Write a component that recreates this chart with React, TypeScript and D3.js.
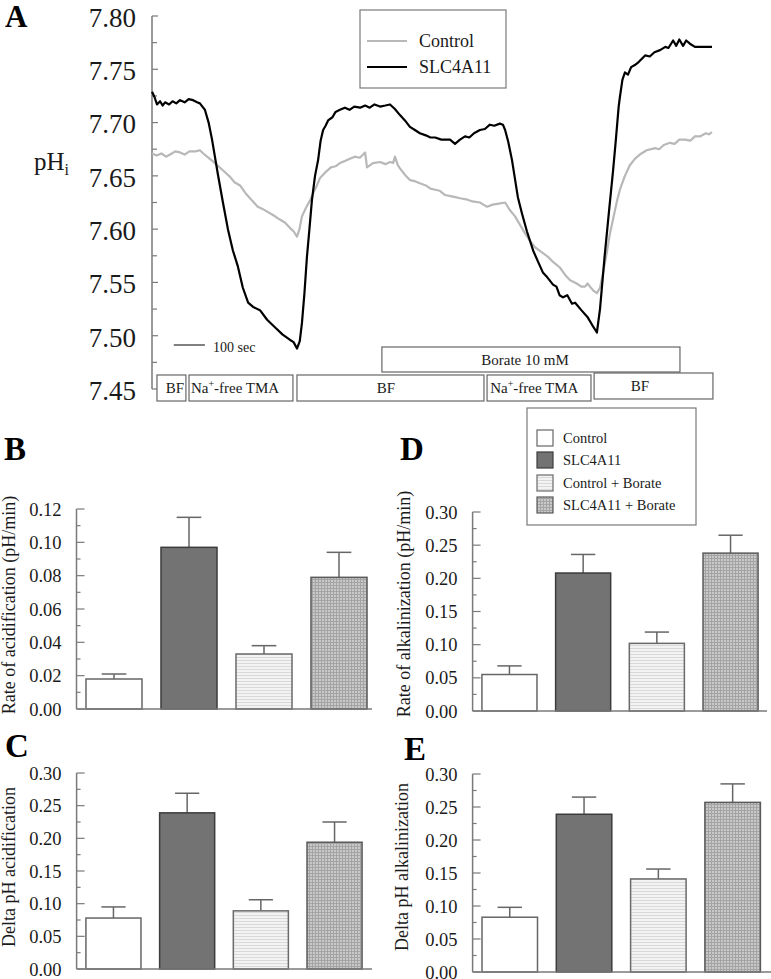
import React from 'react';
import * as d3 from 'd3';

// ---------- Panel A data (time in s, pH) ----------
const slcTime = [0, 8, 16, 26, 34, 42, 55, 66, 78, 90, 105, 118, 132, 145, 154, 162, 170, 182, 193, 212, 228, 244, 260, 276, 292, 309, 325, 347, 370, 395, 420, 444, 455, 466, 475, 482, 490, 498, 506, 514, 524, 534, 542, 550, 558, 566, 580, 590, 604, 620, 635, 650, 669, 685, 700, 715, 733, 750, 765, 780, 797, 813, 829, 845, 861, 880, 895, 910, 930, 958, 974, 990, 1006, 1020, 1035, 1054, 1070, 1086, 1100, 1118, 1128, 1135, 1145, 1157, 1176, 1189, 1205, 1225, 1240, 1257, 1270, 1289, 1300, 1310, 1321, 1335, 1350, 1360, 1380, 1401, 1415, 1430, 1440, 1455, 1470, 1482, 1491, 1500, 1504, 1512, 1520, 1530, 1540, 1552, 1565, 1585, 1600, 1615, 1633, 1650, 1660, 1675, 1685, 1695, 1707, 1717, 1729, 1745, 1761, 1800];
const slcPH = [7.729, 7.724, 7.717, 7.720, 7.716, 7.719, 7.717, 7.720, 7.718, 7.721, 7.719, 7.722, 7.721, 7.719, 7.718, 7.715, 7.712, 7.700, 7.684, 7.651, 7.625, 7.600, 7.580, 7.565, 7.545, 7.531, 7.527, 7.524, 7.515, 7.508, 7.501, 7.496, 7.494, 7.488, 7.495, 7.512, 7.540, 7.574, 7.600, 7.627, 7.650, 7.665, 7.683, 7.693, 7.697, 7.702, 7.705, 7.710, 7.712, 7.714, 7.712, 7.715, 7.714, 7.716, 7.714, 7.717, 7.715, 7.716, 7.717, 7.713, 7.707, 7.702, 7.696, 7.693, 7.690, 7.688, 7.686, 7.686, 7.684, 7.684, 7.680, 7.684, 7.687, 7.686, 7.690, 7.693, 7.694, 7.698, 7.697, 7.699, 7.698, 7.693, 7.682, 7.665, 7.630, 7.615, 7.598, 7.580, 7.570, 7.559, 7.555, 7.548, 7.546, 7.538, 7.536, 7.538, 7.530, 7.531, 7.524, 7.517, 7.510, 7.503, 7.525, 7.575, 7.620, 7.655, 7.684, 7.715, 7.724, 7.740, 7.747, 7.745, 7.752, 7.754, 7.757, 7.763, 7.762, 7.766, 7.768, 7.771, 7.770, 7.777, 7.772, 7.778, 7.772, 7.777, 7.774, 7.771, 7.771, 7.771];

const ctrlTime = [0, 15, 30, 45, 58, 75, 90, 105, 120, 140, 154, 165, 177, 190, 202, 225, 251, 265, 283, 300, 321, 340, 355, 373, 390, 411, 428, 444, 455, 466, 474, 482, 495, 508, 520, 530, 540, 556, 575, 590, 604, 620, 636, 652, 668, 685, 691, 710, 733, 750, 765, 775, 781, 790, 797, 813, 829, 845, 861, 880, 895, 910, 925, 942, 960, 975, 990, 1010, 1030, 1054, 1065, 1077, 1095, 1115, 1135, 1150, 1167, 1183, 1199, 1215, 1231, 1250, 1273, 1290, 1311, 1328, 1344, 1365, 1380, 1392, 1400, 1408, 1420, 1430, 1440, 1450, 1462, 1472, 1484, 1495, 1504, 1520, 1536, 1552, 1568, 1590, 1617, 1630, 1645, 1665, 1680, 1695, 1713, 1730, 1745, 1761, 1780, 1790, 1800];
const ctrlPH = [7.671, 7.669, 7.671, 7.668, 7.670, 7.673, 7.672, 7.670, 7.673, 7.673, 7.674, 7.671, 7.668, 7.665, 7.662, 7.656, 7.649, 7.644, 7.641, 7.634, 7.627, 7.621, 7.619, 7.616, 7.613, 7.609, 7.606, 7.601, 7.598, 7.593, 7.600, 7.612, 7.620, 7.627, 7.635, 7.641, 7.648, 7.653, 7.658, 7.659, 7.662, 7.664, 7.666, 7.668, 7.667, 7.672, 7.658, 7.662, 7.663, 7.661, 7.663, 7.662, 7.668, 7.660, 7.657, 7.651, 7.646, 7.645, 7.643, 7.641, 7.638, 7.637, 7.636, 7.632, 7.631, 7.630, 7.629, 7.628, 7.626, 7.625, 7.623, 7.621, 7.623, 7.624, 7.625, 7.618, 7.612, 7.604, 7.596, 7.589, 7.583, 7.579, 7.574, 7.569, 7.564, 7.557, 7.552, 7.549, 7.546, 7.546, 7.549, 7.546, 7.542, 7.540, 7.545, 7.559, 7.578, 7.596, 7.612, 7.627, 7.637, 7.650, 7.660, 7.666, 7.670, 7.674, 7.676, 7.675, 7.679, 7.681, 7.680, 7.684, 7.684, 7.683, 7.687, 7.687, 7.690, 7.689, 7.691];

const pHTicks = [7.45, 7.50, 7.55, 7.60, 7.65, 7.70, 7.75, 7.80];

const protocolLabels = ['BF', 'Na+-free TMA', 'BF', 'Na+-free TMA', 'BF'];
const protocolStart = [16, 119, 466, 1077, 1421];
const protocolEnd = [109, 453, 1067, 1411, 1803];
const protocolTextAt = [74, 125, 752, 1087, 1568];
const boratePeriod = [739, 1697];
const borateLabel = 'Borate 10 mM';
const borateTextAt = 1199;

// ---------- Bar panels data ----------
const groups = ['Control', 'SLC4A11', 'Control + Borate', 'SLC4A11 + Borate'];
const acidRate = [0.018, 0.097, 0.033, 0.079];
const acidRateErr = [0.003, 0.018, 0.005, 0.015];
const acidDelta = [0.078, 0.239, 0.089, 0.194];
const acidDeltaErr = [0.017, 0.030, 0.017, 0.031];
const alkRate = [0.055, 0.208, 0.102, 0.238];
const alkRateErr = [0.013, 0.028, 0.017, 0.027];
const alkDelta = [0.083, 0.239, 0.141, 0.257];
const alkDeltaErr = [0.015, 0.026, 0.015, 0.028];

const FONT = "'Liberation Serif', 'Times New Roman', serif";
const AXIS = '#7a7a7a';
const TXT = '#1a1a1a';

const barFill = ['#ffffff', '#737373', 'url(#hlines)', 'url(#grid)'];
const barStroke = ['#666666', '#3c3c3c', '#6a6a6a', '#5a5a5a'];

type BarProps = {
  values: number[];
  errs: number[];
  yMax: number;
  step: number;
  yBottom: number;
  yTop: number;
  bandRange: [number, number];
  axisEnd: number;
  letter: string;
  letterX: number;
  letterY: number;
  label: string;
  labelX: number;
  labelY: number;
};

function BarPanel(p: BarProps) {
  const y = d3.scaleLinear().domain([0, p.yMax]).range([p.yBottom, p.yTop]);
  const x = d3.scaleBand<string>().domain(groups).range(p.bandRange).paddingInner(0.253).paddingOuter(0.1265);
  const axisX = p.bandRange[0];
  const n = Math.round(p.yMax / p.step);
  const majors = d3.range(n + 1).map((i) => i * p.step);
  const minors = d3.range(n).map((i) => (i + 0.5) * p.step);
  const fmt = d3.format('.2f');
  const bw = x.bandwidth();
  return (
    <g>
      <text x={p.letterX} y={p.letterY} fontFamily={FONT} fontWeight="bold" fontSize={33} fill="#000">{p.letter}</text>
      <text transform={`translate(${p.labelX},${p.labelY}) rotate(-90)`} textAnchor="middle" fontFamily={FONT} fontSize={18} fill={TXT}>{p.label}</text>
      {groups.map((g, i) => {
        const cx = (x(g) as number) + bw / 2;
        const top = y(p.values[i]);
        const et = y(p.values[i] + p.errs[i]);
        return (
          <g key={g}>
            <line x1={cx} x2={cx} y1={top} y2={et} stroke="#666" strokeWidth={1.5} />
            <line x1={cx - bw * 0.22} x2={cx + bw * 0.22} y1={et} y2={et} stroke="#666" strokeWidth={1.5} />
            <rect x={x(g)} y={top} width={bw} height={p.yBottom - top} fill={barFill[i]} stroke={barStroke[i]} strokeWidth={1.5} />
          </g>
        );
      })}
      <line x1={axisX} x2={axisX} y1={p.yTop} y2={p.yBottom} stroke={AXIS} strokeWidth={1.5} />
      <line x1={axisX} x2={p.axisEnd} y1={p.yBottom} y2={p.yBottom} stroke={AXIS} strokeWidth={1.5} />
      {majors.map((v) => (
        <g key={'M' + v}>
          <line x1={axisX} x2={axisX + 8} y1={y(v)} y2={y(v)} stroke={AXIS} strokeWidth={1.2} />
          <text x={axisX - 15} y={y(v)} dy="0.36em" textAnchor="end" fontFamily={FONT} fontSize={18.5} fill={TXT}>{fmt(v)}</text>
        </g>
      ))}
      {minors.map((v) => (
        <line key={'m' + v} x1={axisX} x2={axisX + 4} y1={y(v)} y2={y(v)} stroke={AXIS} strokeWidth={1.2} />
      ))}
    </g>
  );
}

function PanelA() {
  const x = d3.scaleLinear().domain([0, 1800]).range([152, 712]);
  const y = d3.scaleLinear().domain([7.45, 7.8]).range([389, 16]);
  const minorTicks = d3.range(7).map((i) => 7.475 + i * 0.05);
  const mkLine = (t: number[], v: number[]) =>
    d3.line<number>().x((_, i) => x(t[i])).y((d) => y(d))(v) || '';
  const fmt = d3.format('.2f');
  const rowTop = 375;
  const rowH = 25;
  return (
    <g>
      <text x={5} y={27} fontFamily={FONT} fontWeight="bold" fontSize={31} fill="#000">A</text>
      <text x={34} y={170} fontFamily={FONT} fontSize={25} fill={TXT}>
        pH<tspan fontSize={16} dy={5}>i</tspan>
      </text>
      <line x1={152} x2={152} y1={y(7.8)} y2={y(7.45)} stroke={AXIS} strokeWidth={1.5} />
      {pHTicks.map((v) => (
        <g key={v}>
          <line x1={152} x2={158} y1={y(v)} y2={y(v)} stroke={AXIS} strokeWidth={1.2} />
          <text x={136} y={y(v)} dy="0.4em" textAnchor="end" fontFamily={FONT} fontSize={27} fill={TXT}>{fmt(v)}</text>
        </g>
      ))}
      {minorTicks.map((v) => (
        <line key={v} x1={152} x2={157} y1={y(v)} y2={y(v)} stroke={AXIS} strokeWidth={1.2} />
      ))}
      <path d={mkLine(ctrlTime, ctrlPH)} fill="none" stroke="#b8b8b8" strokeWidth={2.2} strokeLinejoin="round" />
      <path d={mkLine(slcTime, slcPH)} fill="none" stroke="#000" strokeWidth={2.2} strokeLinejoin="round" />

      {/* legend */}
      <rect x={360} y={10} width={146} height={78} fill="#fff" stroke={AXIS} strokeWidth={1.2} />
      <line x1={367} x2={407} y1={41} y2={41} stroke="#b8b8b8" strokeWidth={2.2} />
      <text x={419} y={47} fontFamily={FONT} fontSize={18} fill={TXT}>Control</text>
      <line x1={367} x2={407} y1={67} y2={67} stroke="#000" strokeWidth={2.2} />
      <text x={419} y={73} fontFamily={FONT} fontSize={18} fill={TXT}>SLC4A11</text>

      {/* 100 sec scale bar */}
      <line x1={x(70)} x2={x(170)} y1={345} y2={345} stroke="#000" strokeWidth={1} />
      <text x={213} y={352} fontFamily={FONT} fontSize={14} fill={TXT}>100 sec</text>

      {/* borate bar */}
      <rect x={x(boratePeriod[0])} y={347} width={x(boratePeriod[1]) - x(boratePeriod[0])} height={25} fill="#fff" stroke="#666" strokeWidth={1.2} />
      <text x={x(borateTextAt)} y={365} textAnchor="middle" fontFamily={FONT} fontSize={15} fill={TXT}>{borateLabel}</text>

      {/* solution boxes */}
      {protocolLabels.map((lab, i) => {
        const x0 = x(protocolStart[i]);
        const x1 = x(protocolEnd[i]);
        const isNa = lab.startsWith('Na');
        return (
          <g key={i}>
            <rect x={x0} y={i === 4 ? rowTop - 2 : rowTop} width={x1 - x0} height={rowH + 1} fill="#fff" stroke="#666" strokeWidth={1.2} />
            {isNa ? (
              <text x={x(protocolTextAt[i])} y={rowTop + 18} fontFamily={FONT} fontSize={15} fill={TXT}>
                Na<tspan fontSize={10} dy={-6}>+</tspan><tspan dy={6}>-free TMA</tspan>
              </text>
            ) : (
              <text x={x(protocolTextAt[i])} y={(i === 4 ? rowTop - 2 : rowTop) + 18} textAnchor="middle" fontFamily={FONT} fontSize={15} fill={TXT}>{lab}</text>
            )}
          </g>
        );
      })}
    </g>
  );
}

function LegendD() {
  const rows = [438, 460, 483, 505];
  return (
    <g>
      <rect x={527} y={408} width={169} height={117} fill="#fff" stroke={AXIS} strokeWidth={1.2} />
      {groups.map((g, i) => (
        <g key={g}>
          <rect x={537} y={rows[i] - 8} width={16} height={16} fill={barFill[i]} stroke={barStroke[i]} strokeWidth={1.2} />
          <text x={563} y={rows[i] + 5} fontFamily={FONT} fontSize={14.5} fill={TXT}>{g}</text>
        </g>
      ))}
    </g>
  );
}

export default function App() {
  return (
    <svg width={771} height={979} viewBox="0 0 771 979" style={{ position: 'absolute', left: 0, top: 0, background: '#fff' }}>
      <defs>
        <pattern id="hlines" width="4" height="3" patternUnits="userSpaceOnUse">
          <rect width="4" height="3" fill="#f3f3f3" />
          <line x1="0" x2="4" y1="0.5" y2="0.5" stroke="#d9d9d9" strokeWidth="1" />
        </pattern>
        <pattern id="grid" width="3" height="3" patternUnits="userSpaceOnUse">
          <rect width="3" height="3" fill="#c8c8c8" />
          <path d="M0 0.5H3M0.5 0V3" stroke="#a4a4a4" strokeWidth="1" />
        </pattern>
      </defs>
      <rect width={771} height={979} fill="#fff" />
      <PanelA />
      <BarPanel values={acidRate} errs={acidRateErr} yMax={0.12} step={0.02} yBottom={709} yTop={509}
        bandRange={[76.5, 376.5]} axisEnd={372} letter="B" letterX={4} letterY={460}
        label="Rate of acidification (pH/min)" labelX={15} labelY={605} />
      <BarPanel values={acidDelta} errs={acidDeltaErr} yMax={0.3} step={0.05} yBottom={969} yTop={773}
        bandRange={[76.6, 371.4]} axisEnd={372} letter="C" letterX={5} letterY={757}
        label="Delta pH acidification" labelX={15} labelY={867} />
      <BarPanel values={alkRate} errs={alkRateErr} yMax={0.3} step={0.05} yBottom={711} yTop={512}
        bandRange={[472.6, 767.4]} axisEnd={767} letter="D" letterX={400} letterY={460}
        label="Rate of alkalinization (pH/min)" labelX={410} labelY={604} />
      <BarPanel values={alkDelta} errs={alkDeltaErr} yMax={0.3} step={0.05} yBottom={972} yTop={774}
        bandRange={[472.6, 769.8]} axisEnd={771} letter="E" letterX={404} letterY={760}
        label="Delta pH alkalinization" labelX={408} labelY={867} />
      <LegendD />
    </svg>
  );
}
